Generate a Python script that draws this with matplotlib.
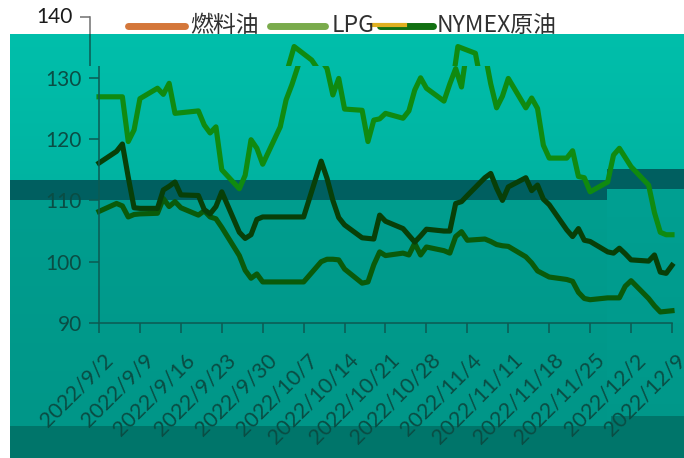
import numpy as np
import pandas as pd
import matplotlib
matplotlib.use("Agg")
import matplotlib.pyplot as plt
import matplotlib.dates as mdates
import matplotlib.colors as mcolors
from matplotlib.transforms import Bbox, TransformedBbox, ScaledTranslation

# data (trading days)
dates = [
    "2022-09-02", "2022-09-05", "2022-09-06", "2022-09-07", "2022-09-08", "2022-09-09",
    "2022-09-12", "2022-09-13", "2022-09-14", "2022-09-15", "2022-09-16",
    "2022-09-19", "2022-09-20", "2022-09-21", "2022-09-22", "2022-09-23",
    "2022-09-26", "2022-09-27", "2022-09-28", "2022-09-29", "2022-09-30",
    "2022-10-03", "2022-10-04", "2022-10-05", "2022-10-06", "2022-10-07",
    "2022-10-10", "2022-10-11", "2022-10-12", "2022-10-13", "2022-10-14",
    "2022-10-17", "2022-10-18", "2022-10-19", "2022-10-20", "2022-10-21",
    "2022-10-24", "2022-10-25", "2022-10-26", "2022-10-27", "2022-10-28",
    "2022-10-31", "2022-11-01", "2022-11-02", "2022-11-03", "2022-11-04",
    "2022-11-07", "2022-11-08", "2022-11-09", "2022-11-10", "2022-11-11",
    "2022-11-14", "2022-11-15", "2022-11-16", "2022-11-17", "2022-11-18",
    "2022-11-21", "2022-11-22", "2022-11-23", "2022-11-24", "2022-11-25",
    "2022-11-28", "2022-11-29", "2022-11-30", "2022-12-01", "2022-12-02",
    "2022-12-05", "2022-12-06", "2022-12-07", "2022-12-08", "2022-12-09",
]
series_a = [
    126.9, 126.9, 126.9, 119.6, 121.5, 126.6,
    128.3, 127.3, 129.1, 124.2, 124.3,
    124.6, 122.3, 121.0, 122.0, 115.0,
    111.9, 114.1, 119.9, 118.5, 115.9,
    122.0, 126.4, 128.9, 131.8, 135.1,
    132.9, 131.5, 127.2, 129.9, 124.9,
    124.7, 119.6, 123.1, 123.3, 124.2,
    123.4, 124.6, 128.0, 130.0, 128.3,
    126.2, 129.0, 131.5, 128.5, 135.1,
    134.0, 129.0, 125.1, 127.0, 129.9,
    125.1, 126.7, 125.0, 119.0, 116.9,
    116.9, 118.1, 113.9, 113.7, 111.4,
    113.0, 117.4, 118.5, 117.0, 115.5,
    112.5, 108.0, 104.8, 104.4, 104.4,
]
series_b = [
    116.1, 118.0, 119.2, 113.8, 108.8, 108.7,
    108.7, 111.7, 112.3, 113.0, 110.9,
    110.8, 108.5, 107.8, 109.0, 111.4,
    104.8, 103.8, 104.4, 106.9, 107.3,
    107.3, 107.3, 107.3, 107.3, 107.3,
    116.4, 113.6, 110.0, 107.2, 106.0,
    103.9, 103.8, 103.7, 107.6, 106.6,
    105.4, 104.3, 103.2, 104.2, 105.3,
    105.0, 105.0, 109.5, 109.8, 110.8,
    113.7, 114.4, 112.0, 110.0, 112.2,
    113.7, 111.6, 112.5, 110.2, 109.3,
    105.2, 104.1, 105.4, 103.5, 103.3,
    101.6, 101.4, 102.2, 101.3, 100.3,
    100.1, 101.1, 98.3, 98.1, 99.4,
]
series_c = [
    108.2, 109.5, 109.1, 107.3, 107.7, 107.8,
    107.9, 110.3, 109.0, 109.8, 108.8,
    107.6, 108.3, 107.3, 107.0, 105.6,
    101.0, 98.6, 97.3, 98.0, 96.7,
    96.7, 96.7, 96.7, 96.7, 96.7,
    100.0, 100.4, 100.4, 100.3, 98.8,
    96.5, 96.7, 99.5, 101.6, 101.0,
    101.4, 101.1, 103.0, 101.1, 102.4,
    101.8, 101.4, 104.1, 104.9, 103.5,
    103.7, 103.3, 102.8, 102.6, 102.5,
    100.8, 99.8, 98.5, 98.0, 97.5,
    97.1, 96.8, 95.0, 94.0, 93.8,
    94.1, 94.1, 94.1, 96.0, 96.9,
    94.0, 92.8, 91.8, 91.9, 92.0,
]
legend_labels = ["燃料油", "LPG", "NYMEX原油"]
tick_labels = [
    "2022/9/2", "2022/9/9", "2022/9/16", "2022/9/23", "2022/9/30",
    "2022/10/7", "2022/10/14", "2022/10/21", "2022/10/28", "2022/11/4",
    "2022/11/11", "2022/11/18", "2022/11/25", "2022/12/2", "2022/12/9",
]
y_ticks = [90, 100, 110, 120, 130]

W, H = 684, 458
plt.rcParams["font.family"] = ["Lato", "Noto Sans CJK SC", "DejaVu Sans"]

fig = plt.figure(figsize=(W / 100, H / 100), dpi=100)
fig.patch.set_facecolor("white")

# background: teal overlay with bands (pixel coords)
bg = fig.add_axes([0, 0, 1, 1], zorder=-1)


def grad(c_top, c_bot, n=100):
    a = np.array(mcolors.to_rgb(c_top))
    b = np.array(mcolors.to_rgb(c_bot))
    t = np.linspace(0, 1, n)[:, None]
    return (a + (b - a) * t)[:, None, :]


bg.imshow(grad("#00bfab", "#00b2a0"), extent=[10, W, 200, 34], aspect="auto")
bg.imshow(grad("#009e8f", "#009587"), extent=[10, W, 458, 199], aspect="auto")
bg.imshow(grad("#00a092", "#009688"), extent=[607, W, 458, 189], aspect="auto")
bg.add_patch(plt.Rectangle((10, 180), 597, 20, color="#005f60", lw=0))
bg.add_patch(plt.Rectangle((607, 169), W - 607, 20, color="#005f60", lw=0))
bg.add_patch(plt.Rectangle((10, 426), 601, 32, color="#00756a", lw=0))
bg.add_patch(plt.Rectangle((611, 416), W - 611, 42, color="#00756a", lw=0))
bg.set_xlim(0, W)
bg.set_ylim(H, 0)
bg.axis("off")

# legend (drawn by hand above the plot)
leg_colors = ["#d4773a", "#7aab4c", "#127012"]
leg_handles = [(128, 185), (270, 325), (380, 433)]
leg_text_x = [190, 332, 437]
for (x0, x1), c, tx, lab in zip(leg_handles, leg_colors, leg_text_x, legend_labels):
    bg.plot([x0, x1], [26, 26], color=c, lw=5, solid_capstyle="round")
    bg.text(tx, 25, lab, va="center", ha="left", fontsize=16.5, color="#303030",
            family=["Noto Sans CJK SC", "DejaVu Sans"])
bg.plot([372, 405], [25, 25], color="#e0b020", lw=3)

# main axes
axis_col = "#0d5a52"
lab_col = "#0a4d44"
ax = fig.add_axes([99 / W, 1 - 323 / H, (672 - 99) / W, (323 - 16.5) / H])
ax.patch.set_visible(False)

x = np.array(dates, dtype="datetime64[D]")
ax.set_xlim(np.datetime64("2022-09-02"), np.datetime64("2022-12-09"))
ax.set_ylim(90, 140)

shift = ScaledTranslation(-9.5 / 100, 0, fig.dpi_scale_trans)
cut = 66  # pixel row where the upper strip is displaced


def clip_rows(artist, top_px, bottom_px):
    bb = Bbox.from_extents(0, 1 - bottom_px / H, 1, 1 - top_px / H)
    artist.set_clip_box(TransformedBbox(bb, fig.transFigure))


line_colors = ["#108a10", "#083f08", "#0a5a0a"]
for vals, c in zip([series_c, series_b, series_a], line_colors[::-1]):
    ln, = ax.plot(x, vals, color=c, lw=3.7)
    clip_rows(ln, cut, H)
    ln2, = ax.plot(x, vals, color=c, lw=3.7, transform=ax.transData + shift)
    ln2.set_clip_path(None)
    clip_rows(ln2, 0, cut)

# y axis line, with the displaced top piece
ytr = ax.get_yaxis_transform()
sp, = ax.plot([0, 0], [90, 140], color=axis_col, lw=1.1, transform=ytr)
sp.set_clip_path(None)
clip_rows(sp, cut, H)
sp2, = ax.plot([0, 0], [90, 140], color=axis_col, lw=1.1, transform=ytr + shift)
sp2.set_clip_path(None)
clip_rows(sp2, 34, cut)
sp3, = ax.plot([0, 0], [90, 140], color="#707070", lw=1.1, transform=ytr + shift)
sp3.set_clip_path(None)
clip_rows(sp3, 0, 34)
tk, = ax.plot([0], [140], marker=0, ms=7.2, mew=1.1, color="#707070",
              transform=ytr + shift)
tk.set_clip_on(False)
ax.text(0, 140, "140", transform=ytr + ScaledTranslation(-(9.5 + 17) / 100, 0, fig.dpi_scale_trans),
        ha="right", va="center", fontsize=15, color="#1a1a1a")

for s in ["top", "right", "left"]:
    ax.spines[s].set_visible(False)
ax.spines["bottom"].set_color(axis_col)
ax.spines["bottom"].set_linewidth(1.1)

ax.set_yticks(y_ticks)
ax.set_yticklabels([str(v) for v in y_ticks])
tick_pos = mdates.date2num(pd.to_datetime(tick_labels, format="%Y/%m/%d"))
ax.set_xticks(tick_pos)
ax.set_xticklabels([])
ax.tick_params(axis="both", direction="out", length=7.2, width=1.1, color=axis_col,
               labelcolor=lab_col, labelsize=15)
ax.tick_params(axis="y", pad=5)

off = ScaledTranslation(11 / 100, -34 / 100, fig.dpi_scale_trans)
for p, lab in zip(tick_pos, tick_labels):
    ax.text(p, 0, lab, transform=ax.get_xaxis_transform() + off, rotation=45,
            rotation_mode="anchor", ha="right", va="center", fontsize=15.5, color=lab_col)

fig.savefig("out.png", dpi=100)
